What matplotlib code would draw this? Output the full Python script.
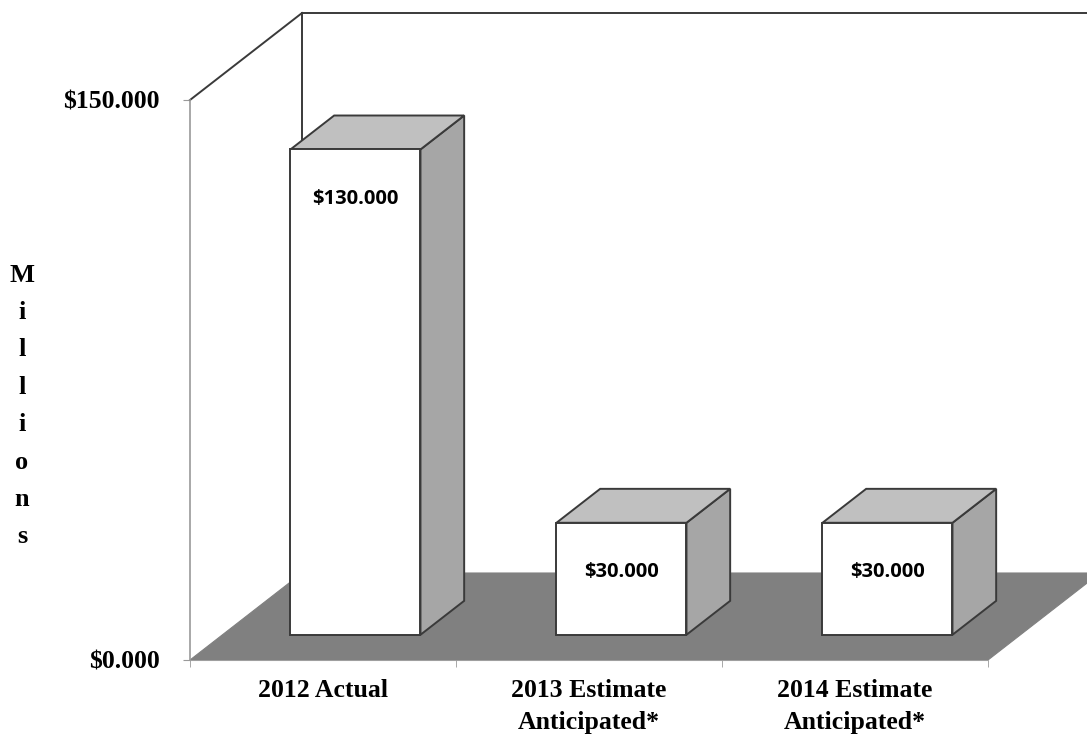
import matplotlib
matplotlib.use("Agg")
import matplotlib.pyplot as plt
from matplotlib.patches import Polygon

categories = ["2012 Actual", "2013 Estimate\nAnticipated*", "2014 Estimate\nAnticipated*"]
values = [130.0, 30.0, 30.0]
value_labels = ["$130.000", "$30.000", "$30.000"]
y_ticks = [0, 150]
y_tick_labels = ["$0.000", "$150.000"]
y_title = "Millions"

W, H = 1087, 737
fig = plt.figure(figsize=(W / 100, H / 100), dpi=100)
ax = fig.add_axes([190 / W, 77 / H, 798 / W, 560 / H])
ax.set_xlim(-0.5, 2.5)
ax.set_ylim(0, 150)

# oblique depth projection (in data units)
DX = 112 / 266.0
DY = 87 / (560 / 150.0)


def P(x, y, d):
    return (x + d * DX, y + d * DY)


edge = "#3a3a3a"
# floor
floor = Polygon([P(-0.5, 0, 0), P(2.5, 0, 0), P(2.5, 0, 1), P(-0.5, 0, 1)],
                closed=True, facecolor="#808080", edgecolor="#808080", lw=0.8,
                clip_on=False, zorder=1)
ax.add_patch(floor)
# walls
ax.plot(*zip(P(-0.5, 150, 0), P(-0.5, 150, 1)), color=edge, lw=1.4, clip_on=False, zorder=2)
ax.plot(*zip(P(-0.5, 0, 1), P(-0.5, 150, 1)), color=edge, lw=1.4, clip_on=False, zorder=2)
ax.plot(*zip(P(-0.5, 150, 1), P(2.5, 150, 1)), color=edge, lw=1.4, clip_on=False, zorder=2)
ax.plot(*zip(P(-0.5, 0, 0), P(-0.5, 150, 0)), color="#9a9a9a", lw=1.2, clip_on=False, zorder=2)

bw = 130 / 266.0
d0, d1 = 0.29, 0.68
for i, (v, lab) in enumerate(zip(values, value_labels)):
    x0 = i - bw / 2
    x1 = i + bw / 2
    front = [P(x0, 0, d0), P(x1, 0, d0), P(x1, v, d0), P(x0, v, d0)]
    top = [P(x0, v, d0), P(x1, v, d0), P(x1, v, d1), P(x0, v, d1)]
    side = [P(x1, 0, d0), P(x1, 0, d1), P(x1, v, d1), P(x1, v, d0)]
    for pts, fc in ((side, "#a6a6a6"), (top, "#c0c0c0"), (front, "#ffffff")):
        ax.add_patch(Polygon(pts, closed=True, facecolor=fc, edgecolor=edge,
                             lw=1.4, clip_on=False, zorder=3 + i))
    cx, cy = P(i, v - 13.2, d0)
    ax.text(cx, cy, lab, ha="center", va="center", fontsize=14.5,
            fontweight="bold", family="Open Sans", zorder=10)

for s in ("top", "right", "left"):
    ax.spines[s].set_visible(False)
ax.spines["bottom"].set_color("#c8c8c8")
ax.spines["bottom"].set_zorder(0)

serif = "Liberation Serif"
ax.set_yticks(y_ticks)
ax.set_yticklabels(y_tick_labels, fontsize=18.5, fontweight="bold", family=serif)
ax.tick_params(axis="y", length=5, color="#9a9a9a", pad=17)

ax.set_xticks(range(len(categories)))
ax.set_xticklabels(categories, fontsize=18.5, fontweight="bold", family=serif,
                   linespacing=1.5)
ax.set_xticks([-0.5, 0.5, 1.5, 2.5], minor=True)
ax.tick_params(axis="x", which="major", length=0, pad=14)
ax.tick_params(axis="x", which="minor", length=5, color="#9a9a9a")

fig.text(22 / W, 1 - 406 / H, "\n".join(y_title), ha="center", va="center",
         fontsize=19, fontweight="bold", family=serif, linespacing=1.8)

fig.savefig("out.png", dpi=100)
